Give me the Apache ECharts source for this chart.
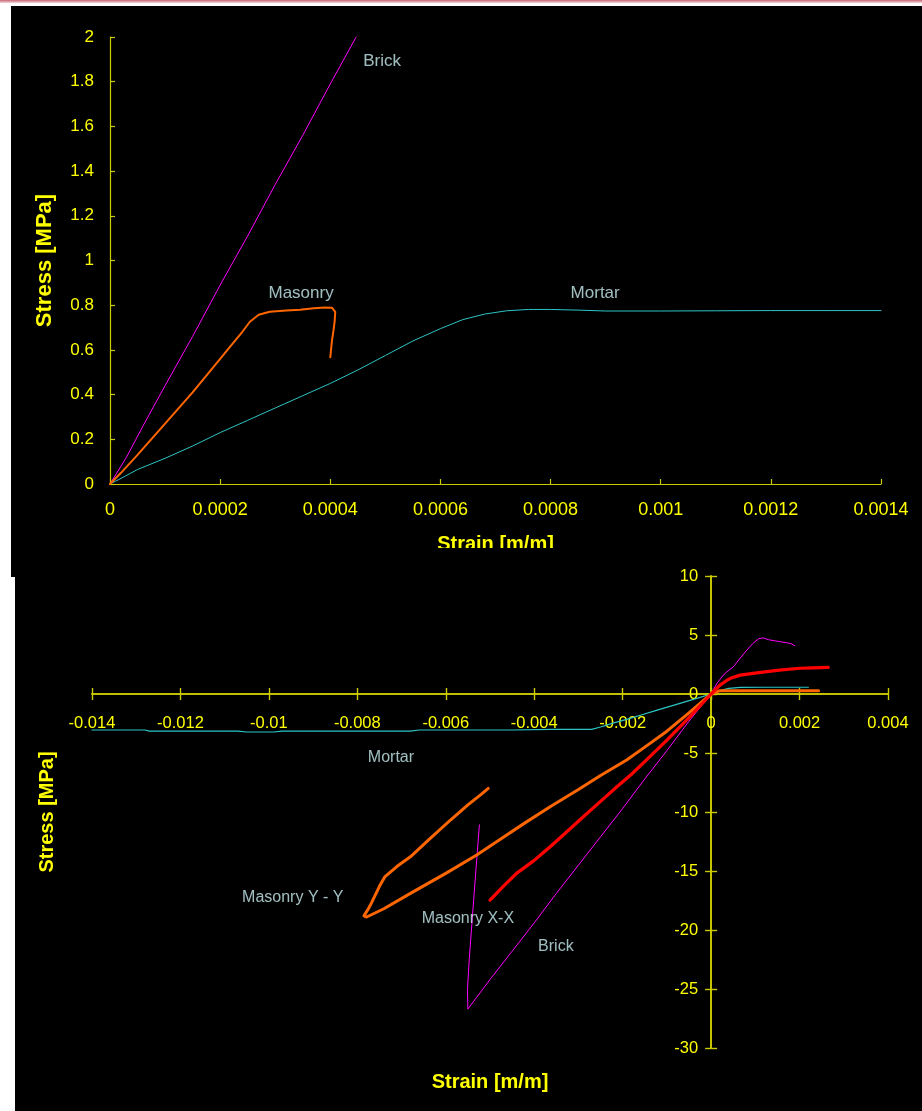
<!DOCTYPE html>
<html>
<head>
<meta charset="utf-8">
<script src="https://cdn.jsdelivr.net/npm/echarts@6/dist/echarts.min.js"></script>
<style>
  html, body { margin: 0; padding: 0; background: #fff; width: 922px; height: 1111px; overflow: hidden; position: relative; }
  #rule { position: absolute; left: 0; top: 0; width: 922px; height: 3px; background: linear-gradient(#c46a78, #e4a7b0 60%, #f6dde0); }
  #upper { position: absolute; left: 11px; top: 6px; width: 911px; height: 571px; background: #000; }
  #lower { position: absolute; left: 15px; top: 548px; width: 907px; height: 563px; background: #000; }
</style>
</head>
<body>
<div id="rule"></div>
<div id="upper"></div>
<div id="lower"></div>
<script>
// ---- Upper plot: tension tests, [strain, stress MPa] ----
const upperBrick = [
  [0, 0], [0.00003, 0.12], [0.00006, 0.26], [0.0001, 0.44], [0.00015, 0.66], [0.0002, 0.89],
  [0.00025, 1.11], [0.0003, 1.34], [0.00035, 1.56], [0.0004, 1.79], [0.000447, 2.0]
];
const upperMasonry = [
  [0, 0], [0.00002, 0.05], [0.00005, 0.13], [0.0001, 0.27], [0.00015, 0.41], [0.0002, 0.56],
  [0.00022, 0.62], [0.00024, 0.68], [0.000254, 0.726], [0.00027, 0.757], [0.00029, 0.771],
  [0.00032, 0.776], [0.000345, 0.78], [0.00037, 0.786], [0.00039, 0.79], [0.000403, 0.789],
  [0.000409, 0.77], [0.000408, 0.73], [0.000406, 0.69], [0.000403, 0.64], [0.0004, 0.567]
];
const upperMortar = [
  [0, 0], [0.00002, 0.025], [0.00005, 0.065], [0.0001, 0.115], [0.00015, 0.17], [0.0002, 0.23],
  [0.00025, 0.285], [0.0003, 0.34], [0.00035, 0.395], [0.0004, 0.45], [0.00045, 0.51],
  [0.0005, 0.575], [0.00055, 0.64], [0.0006, 0.695], [0.00064, 0.735], [0.00068, 0.76],
  [0.00072, 0.775], [0.00076, 0.781], [0.0008, 0.781], [0.00085, 0.778], [0.0009, 0.774],
  [0.001, 0.774], [0.0011, 0.775], [0.0012, 0.776], [0.0013, 0.776], [0.0014, 0.776]
];
const upperNotes = [
  ['Brick', 0.000494, 1.893],
  ['Masonry', 0.000347, 0.855],
  ['Mortar', 0.000881, 0.855]
];

// ---- Lower plot: full cycle, [strain, stress MPa] ----
const lowerMortar = [
  [-0.014, -3.05], [-0.0128, -3.05], [-0.0127, -3.15], [-0.0107, -3.15], [-0.0105, -3.22],
  [-0.0099, -3.22], [-0.0097, -3.15], [-0.0068, -3.15], [-0.0066, -3.05], [-0.0045, -3.05],
  [-0.0036, -3.0], [-0.0027, -3.0], [-0.0025, -2.8], [-0.0022, -2.45], [-0.00183, -2.06],
  [-0.0016, -1.8], [-0.0012, -1.35], [-0.0008, -0.9], [-0.0004, -0.45], [0, 0],
  [0.0002, 0.3], [0.0004, 0.48], [0.00066, 0.56], [0.0012, 0.57], [0.0022, 0.57]
];
const lowerBrick = [
  [0.00189, 4.1], [0.00182, 4.25], [0.0017, 4.35], [0.00156, 4.43], [0.00145, 4.5], [0.0013, 4.6],
  [0.00118, 4.75], [0.00108, 4.7], [0.00095, 4.3], [0.00081, 3.73], [0.00065, 3.0], [0.0005, 2.3],
  [0.0003, 1.7], [0.00013, 0.9], [0, 0],
  [-0.0005, -2.3], [-0.001, -4.8], [-0.0015, -7.2], [-0.002, -9.7], [-0.0025, -12.1],
  [-0.003, -14.5], [-0.0035, -16.9], [-0.004, -19.4], [-0.0045, -21.8], [-0.005, -24.2],
  [-0.0053, -25.7], [-0.0055, -26.7], [-0.00553, -26.8],
  [-0.00551, -25.1], [-0.00547, -22.5], [-0.0054, -19], [-0.00532, -15], [-0.00524, -11.1]
];
const lowerMasonryYY = [
  [0.00243, 0.28], [0.0015, 0.28], [0.0008, 0.28], [0.0002, 0.28], [0, 0],
  [-0.0005, -1.6], [-0.001, -3.15], [-0.0015, -4.5], [-0.00191, -5.59], [-0.0025, -6.9],
  [-0.003, -8.1], [-0.00364, -9.55], [-0.0042, -10.9], [-0.0048, -12.4], [-0.0053, -13.64],
  [-0.006, -15.2], [-0.0068, -16.9], [-0.0074, -18.2], [-0.00779, -18.9], [-0.00785, -18.8],
  [-0.00775, -18.2], [-0.00768, -17.7], [-0.0075, -16.3], [-0.00738, -15.5], [-0.0071, -14.6],
  [-0.0068, -13.8], [-0.0064, -12.4], [-0.0059, -10.7], [-0.0055, -9.4], [-0.0052, -8.5],
  [-0.00504, -8.0]
];
const lowerMasonryXX = [
  [0.00265, 2.26], [0.0023, 2.22], [0.00201, 2.18], [0.0016, 2.05], [0.00126, 1.9],
  [0.00095, 1.75], [0.00066, 1.6], [0.00045, 1.35], [0.00036, 1.17], [0.0002, 0.75], [0, 0],
  [-0.0005, -2.0], [-0.001, -3.9], [-0.00146, -5.59], [-0.0018, -6.8], [-0.00213, -7.86],
  [-0.0025, -9.1], [-0.00289, -10.4], [-0.0033, -11.8], [-0.00364, -12.94], [-0.004, -14.1],
  [-0.0044, -15.2], [-0.0047, -16.3], [-0.005, -17.46]
];
const lowerNotes = [
  ['Mortar', -0.00724, -5.42],
  ['Masonry Y - Y', -0.00946, -17.29],
  ['Masonry X-X', -0.0055, -19.07],
  ['Brick', -0.00351, -21.44]
];

const FONT = '"Liberation Sans", Arial, sans-serif';
const YELLOW = '#ffff00';
const AXIS_LINE = '#cccc00';
const NOTE = '#c8eef0';
const fmt = v => String(+v.toFixed(6));

function curve(data, color, width) {
  return {
    type: 'line', data, showSymbol: false, symbol: 'none', smooth: false,
    lineStyle: { color, width, cap: 'round', join: 'round' },
    animation: false, silent: true
  };
}
function notes(list, size) {
  return {
    type: 'scatter', symbolSize: 1, itemStyle: { color: 'rgba(0,0,0,0)' }, silent: true,
    animation: false, z: 5,
    data: list.map(n => ({ name: n[0], value: [n[1], n[2]] })),
    label: { show: true, position: 'inside', formatter: '{b}', color: NOTE, fontSize: size, fontFamily: FONT }
  };
}

// Upper chart
const upper = echarts.init(document.getElementById('upper'), null, { renderer: 'canvas' });
upper.setOption({
  backgroundColor: '#000',
  animation: false,
  grid: { left: 99, right: 41, top: 31, bottom: 93, outerBoundsMode: 'none' },
  xAxis: {
    type: 'value', min: 0, max: 0.0014, interval: 0.0002,
    axisLine: { lineStyle: { color: AXIS_LINE, width: 1.2 } },
    axisTick: { inside: true, length: 5, lineStyle: { color: AXIS_LINE, width: 1.2 } },
    axisLabel: { color: YELLOW, fontSize: 18, margin: 17, fontFamily: FONT, formatter: fmt },
    splitLine: { show: false },
    name: 'Strain [m/m]', nameLocation: 'middle', nameGap: 50,
    nameTextStyle: { color: YELLOW, fontSize: 20, fontWeight: 'bold', fontFamily: FONT }
  },
  yAxis: {
    type: 'value', min: 0, max: 2, interval: 0.2,
    axisLine: { lineStyle: { color: AXIS_LINE, width: 1.2 } },
    axisTick: { inside: true, length: 5, lineStyle: { color: AXIS_LINE, width: 1.2 } },
    axisLabel: { color: YELLOW, fontSize: 17, margin: 16, fontFamily: FONT, formatter: fmt },
    splitLine: { show: false },
    name: 'Stress [MPa]', nameLocation: 'middle', nameGap: 54,
    nameTextStyle: { color: YELLOW, fontSize: 22, fontWeight: 'bold', fontFamily: FONT }
  },
  series: [
    curve(upperMortar, '#2ec4c4', 1),
    curve(upperBrick, '#ff00ff', 1),
    curve(upperMasonry, '#ff6600', 2),
    notes(upperNotes, 17)
  ]
});

// Lower chart: the axes cross at the origin, with ticks on both sides of each axis.
// Each axis is shifted from its grid edge to the zero line of the other axis.
const LOWER_W = 907, LOWER_H = 563;
const lowerGrid = { left: 77, right: 34, top: 28, bottom: 63, outerBoundsMode: 'none' };
const X_MIN = -0.014, X_MAX = 0.004, X_STEP = 0.002;
const Y_MIN = -30, Y_MAX = 10, Y_STEP = 5;
const gridW = LOWER_W - lowerGrid.left - lowerGrid.right;
const gridH = LOWER_H - lowerGrid.top - lowerGrid.bottom;
const zeroFromLeft = gridW * (0 - X_MIN) / (X_MAX - X_MIN);
const zeroFromBottom = gridH * (0 - Y_MIN) / (Y_MAX - Y_MIN);

const lowerAxisX = (extra) => Object.assign({
  type: 'value', min: X_MIN, max: X_MAX, interval: X_STEP,
  axisLine: { onZero: false, lineStyle: { color: AXIS_LINE, width: 1.6 } },
  axisTick: { length: 6, lineStyle: { color: AXIS_LINE, width: 1.4 } },
  splitLine: { show: false }
}, extra);
const lowerAxisY = (extra) => Object.assign({
  type: 'value', min: Y_MIN, max: Y_MAX, interval: Y_STEP,
  axisLine: { onZero: false, lineStyle: { color: AXIS_LINE, width: 1.6 } },
  axisTick: { length: 6, lineStyle: { color: AXIS_LINE, width: 1.4 } },
  splitLine: { show: false }
}, extra);

const lower = echarts.init(document.getElementById('lower'), null, { renderer: 'canvas' });
lower.setOption({
  backgroundColor: '#000',
  animation: false,
  grid: lowerGrid,
  xAxis: [
    lowerAxisX({
      position: 'bottom', offset: -zeroFromBottom,
      axisLabel: { color: YELLOW, fontSize: 16.5, margin: 21, fontFamily: FONT, formatter: fmt },
      name: 'Strain [m/m]', nameLocation: 'middle', nameGap: 378,
      nameTextStyle: { color: YELLOW, fontSize: 20, fontWeight: 'bold', fontFamily: FONT }
    }),
    lowerAxisX({ position: 'top', offset: -(gridH - zeroFromBottom), axisLabel: { show: false } })
  ],
  yAxis: [
    lowerAxisY({
      position: 'left', offset: -zeroFromLeft,
      axisLabel: { color: YELLOW, fontSize: 16.5, margin: 13, fontFamily: FONT, formatter: fmt },
      name: 'Stress [MPa]', nameLocation: 'middle', nameGap: 654,
      nameTextStyle: { color: YELLOW, fontSize: 20, fontWeight: 'bold', fontFamily: FONT }
    }),
    lowerAxisY({ position: 'right', offset: -(gridW - zeroFromLeft), axisLabel: { show: false } })
  ],
  series: [
    curve(lowerMortar, '#2ec4c4', 1.2),
    curve(lowerBrick, '#ff00ff', 1),
    curve(lowerMasonryYY, '#ff6600', 3),
    curve(lowerMasonryXX, '#ff0000', 3.2),
    notes(lowerNotes, 16)
  ]
});
</script>
</body>
</html>
